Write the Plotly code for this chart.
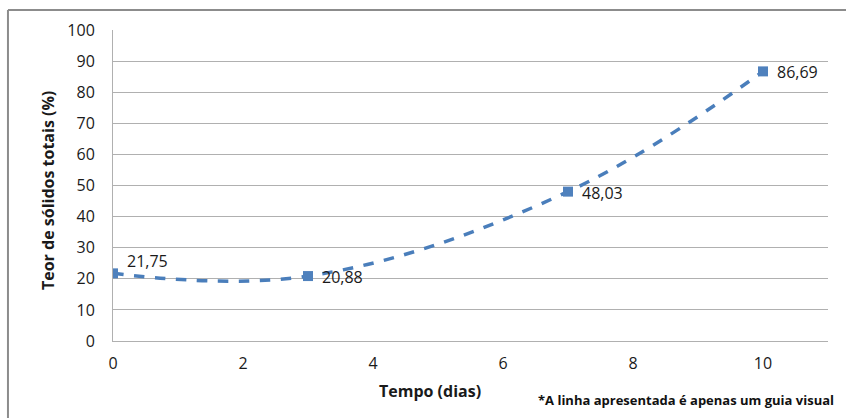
import plotly.graph_objects as go

dias = [0, 3, 7, 10]
teor = [21.75, 20.88, 48.03, 86.69]
rotulos = ["21,75", "20,88", "48,03", "86,69"]
x_ticks = [0, 2, 4, 6, 8, 10]
y_ticks = [0, 10, 20, 30, 40, 50, 60, 70, 80, 90, 100]

FONT = "'Open Sans', Lato, sans-serif"
TXT = "#1a1a1a"

fig = go.Figure()
fig.add_trace(go.Scatter(
    x=dias, y=teor,
    mode="lines+markers",
    line=dict(color="#4a7ebb", width=3.5, dash="dash", shape="spline", smoothing=1.1),
    marker=dict(symbol="square", size=10, color="#4f81bd"),
    hoverinfo="skip", showlegend=False,
))

label_anns = []
for i, (xv, yv, t) in enumerate(zip(dias, teor, rotulos)):
    label_anns.append(dict(
        x=xv, y=yv, xref="x", yref="y", text=t, showarrow=False,
        xanchor="left", yanchor="middle", xshift=12, yshift=(12 if i == 0 else -1),
        font=dict(family=FONT, size=16, color=TXT)))

fig.update_layout(
    width=846, height=418,
    margin=dict(l=113, r=18, t=30, b=77),
    paper_bgcolor="white", plot_bgcolor="white",
    font=dict(family=FONT, size=16, color=TXT),
    xaxis=dict(range=[0, 11], tickvals=x_ticks, ticktext=[str(v) for v in x_ticks],
               showgrid=False, zeroline=False, showline=True, linecolor="#b0b0b0",
               linewidth=1, ticks="", ticklen=0, ticklabelstandoff=8,
               tickfont=dict(size=16, color=TXT)),
    yaxis=dict(range=[0, 100], tickvals=y_ticks, ticktext=[str(v) for v in y_ticks],
               showgrid=True, gridcolor="#b0b0b0", gridwidth=1, zeroline=False,
               showline=True, linecolor="#b0b0b0", linewidth=1, ticks="",
               ticklabelstandoff=14, tickfont=dict(size=16, color=TXT)),
    annotations=label_anns + [
        dict(text="<b>Tempo (dias)</b>", xref="paper", yref="paper", x=0.4434, y=-0.1608,
             xanchor="center", yanchor="middle", showarrow=False,
             font=dict(family=FONT, size=16, color=TXT)),
        dict(text="<b>Teor de sólidos totais (%)</b>", xref="paper", yref="paper",
             x=-0.0909, y=0.4823, xanchor="center", yanchor="middle", showarrow=False,
             textangle=-90, font=dict(family=FONT, size=16, color=TXT)),
        dict(text="<b>*A linha apresentada é apenas um guia visual</b>",
             xref="paper", yref="paper", x=1.0112, y=-0.19, xanchor="right", yanchor="middle",
             showarrow=False, font=dict(family=FONT, size=13, color="#111111")),
    ],
    shapes=[
        dict(type="line", xref="paper", yref="paper", x0=-0.1469, x1=-0.1469, y0=1.0643, y1=-0.26,
             line=dict(color="#8c8c8c", width=2)),
        dict(type="line", xref="paper", yref="paper", x0=-0.1469, x1=1.03, y0=1.0643, y1=1.0643,
             line=dict(color="#8c8c8c", width=2)),
    ],
)
fig.write_html("out.html", config={"displayModeBar": False},
               post_script="document.body.style.margin='0';document.body.style.overflow='hidden';")
